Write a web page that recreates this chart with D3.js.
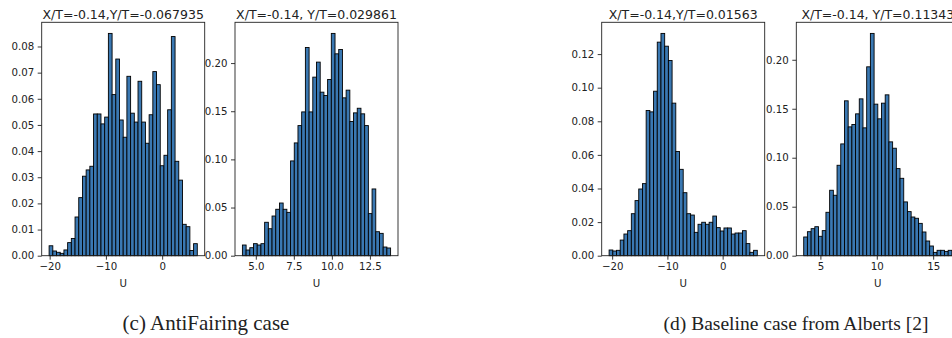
<!DOCTYPE html>
<html>
<head>
<meta charset="utf-8">
<script src="https://d3js.org/d3.v7.min.js"></script>
<style>
  body { margin: 0; background: #fff; }
  svg text { font-family: "DejaVu Sans", sans-serif; fill: #222; }
</style>
</head>
<body>
<script>
var w = 952, h = 338;

// density of U per bin, 40 bins per panel
var antiFirst = [0.0038,0.0018,0.0013,0.0009,0.0022,0.005,0.0066,0.0148,0.0222,0.0304,
  0.0328,0.0342,0.0542,0.0542,0.0504,0.053,0.085,0.0616,0.0752,0.0519,
  0.0453,0.0686,0.0545,0.0511,0.0667,0.0511,0.043,0.0539,0.0704,0.0654,
  0.0344,0.0384,0.0558,0.0838,0.0361,0.0289,0.012,0.0111,0.002,0.0046];
var antiSecond = [0.0111,0.0059,0.0083,0.0125,0.0111,0.0125,0.0347,0.028,0.0412,0.0482,
  0.0547,0.0482,0.045,0.0984,0.1171,0.1351,0.1493,0.2162,0.1493,0.1854,
  0.201,0.1698,0.1663,0.183,0.2308,0.2096,0.2141,0.1639,0.1719,0.1393,
  0.1483,0.1531,0.1473,0.1351,0.0437,0.0693,0.0249,0.0232,0.009,0.008];
var baseFirst = [0.0034,0.0028,0.0032,0.0093,0.0129,0.0149,0.025,0.0328,0.0397,0.0429,
  0.0864,0.0856,0.0979,0.1271,0.1323,0.1247,0.1162,0.0908,0.062,0.0514,
  0.0375,0.025,0.0242,0.0139,0.0187,0.0199,0.0187,0.0199,0.0236,0.0167,
  0.0147,0.0165,0.0165,0.0129,0.0135,0.0135,0.0149,0.0072,0.002,0.0032];
var baseSecond = [0.0191,0.0245,0.0276,0.0296,0.0198,0.0256,0.0443,0.0668,0.0617,0.0923,
  0.1141,0.1581,0.1315,0.1339,0.1448,0.1601,0.1305,0.1928,0.2269,0.1547,
  0.1397,0.1557,0.1642,0.1162,0.1097,0.0889,0.079,0.0549,0.045,0.0395,
  0.0382,0.033,0.0242,0.015,0.0099,0.0034,0.0055,0.0055,0.0044,0.0055];

// bin range [first edge, last edge] of each panel
var binRanges = [[-20.1, 6.25], [4.12, 13.86], [-20.55, 6.27], [3.52, 16.66]];

var titles = ["X/T=-0.14,Y/T=-0.067935", "X/T=-0.14, Y/T=0.029861",
              "X/T=-0.14,Y/T=0.01563", "X/T=-0.14, Y/T=0.11343"];

var xTicks = [[-20, -10, 0], [5, 7.5, 10, 12.5], [-20, -10, 0], [5, 10, 15]];
var xFormats = ["d", ".1f", "d", "d"];
var yTicks = [[0, 0.01, 0.02, 0.03, 0.04, 0.05, 0.06, 0.07, 0.08],
              [0, 0.05, 0.10, 0.15, 0.20],
              [0, 0.02, 0.04, 0.06, 0.08, 0.10, 0.12],
              [0, 0.05, 0.10, 0.15, 0.20]];

var captions = ["(c) AntiFairing case", "(d) Baseline case from Alberts [2]"];

var series = [antiFirst, antiSecond, baseFirst, baseSecond];
var lefts = [41.7, 235, 601.7, 796.3];
var pw = 163, topY = 22.3, bottomY = 255.7;

var svg = d3.select("body").append("svg")
  .attr("width", w)
  .attr("height", h);

series.forEach(function (vals, k) {
  var lo = binRanges[k][0], hi = binRanges[k][1];
  var pad = (hi - lo) * 0.05;
  var bw = (hi - lo) / vals.length;
  var x = d3.scaleLinear().domain([lo - pad, hi + pad]).range([lefts[k], lefts[k] + pw]);
  var y = d3.scaleLinear().domain([0, d3.max(vals) * 1.05]).range([bottomY, topY]);

  var g = svg.append("g");

  g.selectAll("rect")
    .data(vals)
    .join("rect")
    .attr("x", function (d, i) { return x(lo + i * bw); })
    .attr("width", function (d, i) { return x(lo + (i + 1) * bw) - x(lo + i * bw); })
    .attr("y", function (d) { return y(d); })
    .attr("height", function (d) { return bottomY - y(d); })
    .attr("fill", "#3a78b2")
    .attr("stroke", "#000")
    .attr("stroke-width", 0.9);

  // frame
  g.append("rect")
    .attr("x", lefts[k]).attr("y", topY)
    .attr("width", pw).attr("height", bottomY - topY)
    .attr("fill", "none").attr("stroke", "#222").attr("stroke-width", 0.9);

  var xa = g.append("g")
    .attr("transform", "translate(0," + bottomY + ")")
    .call(d3.axisBottom(x).tickValues(xTicks[k]).tickFormat(d3.format(xFormats[k]))
      .tickSize(4).tickPadding(3.5));
  var ya = g.append("g")
    .attr("transform", "translate(" + lefts[k] + ",0)")
    .call(d3.axisLeft(y).tickValues(yTicks[k]).tickFormat(d3.format(".2f"))
      .tickSize(4).tickPadding(3.5));

  [xa, ya].forEach(function (a) {
    a.select(".domain").remove();
    a.selectAll("line").attr("stroke", "#222").attr("stroke-width", 0.9);
    a.selectAll("text")
      .attr("font-family", "DejaVu Sans")
      .attr("font-size", 10.2)
      .attr("fill", "#333");
  });

  g.append("text")
    .attr("x", lefts[k] + pw / 2).attr("y", 287)
    .attr("text-anchor", "middle")
    .attr("font-size", 10.2)
    .attr("fill", "#333")
    .text("U");

  g.append("text")
    .attr("x", lefts[k] + pw / 2).attr("y", 19)
    .attr("text-anchor", "middle")
    .attr("font-size", 12.5)
    .text(titles[k]);
});

// sub-figure captions
svg.selectAll("text.caption")
  .data(captions)
  .join("text")
  .attr("class", "caption")
  .attr("x", function (d, i) { return i == 0 ? 206 : 796; })
  .attr("y", 330)
  .attr("text-anchor", "middle")
  .style("font-family", "'Liberation Serif', serif")
  .attr("font-size", function (d, i) { return i == 0 ? 21 : 19.5; })
  .text(function (d) { return d; });
</script>
</body>
</html>
